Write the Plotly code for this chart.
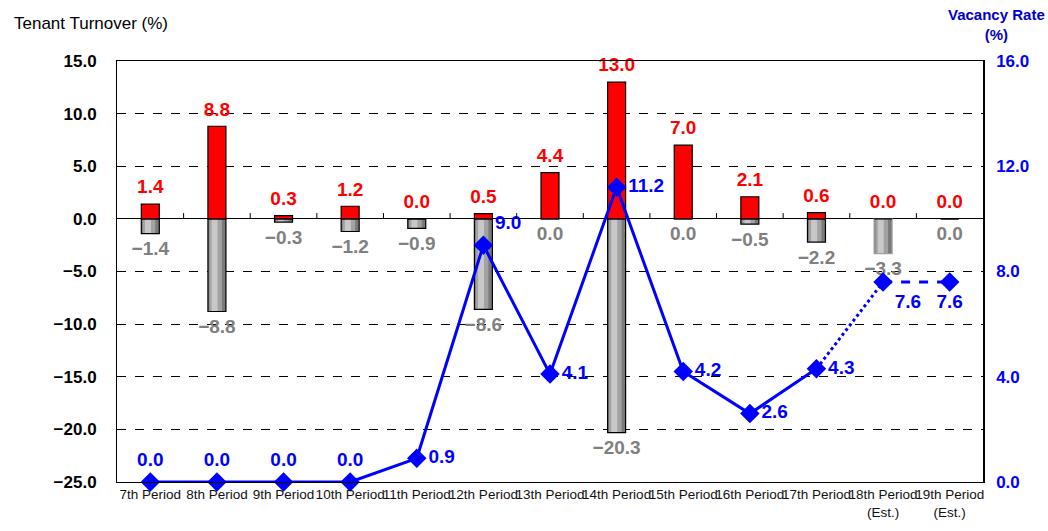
import plotly.graph_objects as go

# Periods shown on the category axis
periods = ["7th Period", "8th Period", "9th Period", "10th Period", "11th Period",
           "12th Period", "13th Period", "14th Period", "15th Period", "16th Period",
           "17th Period", "18th Period<br>(Est.)", "19th Period<br>(Est.)"]

# Tenant turnover (%): move-ins (positive) and move-outs (negative)
move_in = [1.4, 8.8, 0.3, 1.2, 0.0, 0.5, 4.4, 13.0, 7.0, 2.1, 0.6, 0.0, 0.0]
move_out = [-1.4, -8.8, -0.3, -1.2, -0.9, -8.6, 0.0, -20.3, 0.0, -0.5, -2.2, -3.3, 0.0]

# Vacancy rate (%)
vacancy = [0.0, 0.0, 0.0, 0.0, 0.9, 9.0, 4.1, 11.2, 4.2, 2.6, 4.3, 7.6, 7.6]

x = list(range(len(periods)))
FONT = "Arial, Liberation Sans, sans-serif"
BLUE = "#0000ff"
RED = "#ff0000"
GREY_TXT = "#808080"
BAR_W = 0.27
CLEAR = "rgba(0,0,0,0)"

fig = go.Figure()

# Move-out bars: layered fills give a cylinder-like shading
fig.add_trace(go.Bar(x=x, y=move_out, width=BAR_W, marker=dict(color="#7a7a7a", line=dict(width=0)),
                     hoverinfo="skip"))
fig.add_trace(go.Bar(x=x, y=move_out, width=0.19, offset=-0.115,
                     marker=dict(color="#a2a2a2", line=dict(width=0)), hoverinfo="skip"))
fig.add_trace(go.Bar(x=x, y=move_out, width=0.09, offset=-0.08,
                     marker=dict(color="#c8c8c8", line=dict(width=0)), hoverinfo="skip"))
outline_cols = ["#000000"] * len(x)
outline_cols[11] = "#a0a0a0"
fig.add_trace(go.Bar(x=x, y=move_out, width=BAR_W,
                     marker=dict(color=CLEAR, line=dict(color=outline_cols, width=1.2)),
                     name="Move-out"))

# Move-in bars
fig.add_trace(go.Bar(x=x, y=move_in, width=BAR_W,
                     marker=dict(color=RED, line=dict(color="#000000", width=1.2)),
                     name="Move-in"))

# Bar value labels (invisible markers set the gap between bar end and text)
fig.add_trace(go.Scatter(x=x, y=move_in, mode="markers+text", text=[f"{v:.1f}" for v in move_in],
                         textposition="top center", cliponaxis=False,
                         marker=dict(size=8, color=CLEAR),
                         textfont=dict(family=FONT, size=19, color=RED, weight="bold"),
                         hoverinfo="skip"))
fig.add_trace(go.Scatter(x=x, y=move_out, mode="markers+text",
                         text=[f"\u2212{abs(v):.1f}" if v < 0 else f"{abs(v):.1f}" for v in move_out],
                         textposition="bottom center", cliponaxis=False,
                         marker=dict(size=10, color=CLEAR),
                         textfont=dict(family=FONT, size=19, color=GREY_TXT, weight="bold"),
                         hoverinfo="skip"))

# Vacancy rate line: actual (solid), transition to estimate (dotted), estimate (dashed)
fig.add_trace(go.Scatter(x=x[:11], y=vacancy[:11], yaxis="y2", mode="lines",
                         line=dict(color=BLUE, width=3), hoverinfo="skip"))
fig.add_trace(go.Scatter(x=x[10:12], y=vacancy[10:12], yaxis="y2", mode="lines",
                         line=dict(color=BLUE, width=3, dash="dot"), hoverinfo="skip"))
fig.add_trace(go.Scatter(x=x[11:], y=vacancy[11:], yaxis="y2", mode="lines",
                         line=dict(color=BLUE, width=3, dash="dash"), hoverinfo="skip"))
fig.add_trace(go.Scatter(x=x, y=vacancy, yaxis="y2", mode="markers", cliponaxis=False,
                         marker=dict(symbol="diamond", size=15, color=BLUE), name="Vacancy Rate"))

vac_pos = ["top center"] * 4 + ["middle right", "top right", "middle right", "middle right",
                                "middle right", "middle right", "middle right",
                                "bottom right", "bottom center"]
fig.add_trace(go.Scatter(x=x, y=vacancy, yaxis="y2", mode="markers+text", cliponaxis=False,
                         marker=dict(size=17, color=CLEAR),
                         text=[f"{v:.1f}" for v in vacancy], textposition=vac_pos,
                         textfont=dict(family=FONT, size=19, color=BLUE, weight="bold"),
                         hoverinfo="skip"))

# Small tick marks on the zero line between categories
shapes = [dict(type="line", xref="x", yref="y", x0=k + 0.5, x1=k + 0.5, y0=0, y1=0.55,
               line=dict(color="#000000", width=1)) for k in range(len(x) - 1)]

fig.update_layout(
    width=1048, height=531,
    margin=dict(l=117, r=65, t=61, b=49, autoexpand=False),
    paper_bgcolor="white", plot_bgcolor="white",
    barmode="overlay", showlegend=False,
    font=dict(family=FONT, color="#000000"),
    shapes=shapes,
    xaxis=dict(range=[-0.5, 12.5], tickmode="array", tickvals=x, ticktext=periods,
               tickangle=0, automargin=False,
               tickfont=dict(family=FONT, size=13.5, color="#111111"),
               showline=True, linecolor="#000000", linewidth=1, mirror=True,
               showgrid=False, zeroline=False, ticks=""),
    yaxis=dict(range=[-25, 15], dtick=5, tickformat=".1f", automargin=False,
               tickfont=dict(family=FONT, size=17, color="#000000", weight="bold"),
               showline=True, linecolor="#000000", linewidth=1,
               showgrid=True, gridcolor="#000000", gridwidth=1, griddash="dash",
               zeroline=True, zerolinecolor="#000000", zerolinewidth=1, ticks="",
               ticklabelstandoff=16),
    yaxis2=dict(range=[0, 16], dtick=4, tickformat=".1f", overlaying="y", side="right",
                automargin=False,
                tickfont=dict(family=FONT, size=17, color=BLUE, weight="bold"),
                showline=True, linecolor="#000000", linewidth=1.5,
                showgrid=False, zeroline=False, ticks="", ticklabelstandoff=8),
    annotations=[
        dict(text="Tenant Turnover (%)", xref="paper", yref="paper",
             x=(12 - 117) / 866, y=(482 - 24) / 421, xanchor="left", yanchor="middle",
             showarrow=False, font=dict(family=FONT, size=17, color="#000000")),
        dict(text="Vacancy Rate<br>(%)", xref="paper", yref="paper",
             x=(996 - 117) / 866, y=(482 - 25) / 421, xanchor="center", yanchor="middle",
             showarrow=False, font=dict(family=FONT, size=15, color="#0000cc", weight="bold")),
    ],
)

fig.write_html("out.html")
